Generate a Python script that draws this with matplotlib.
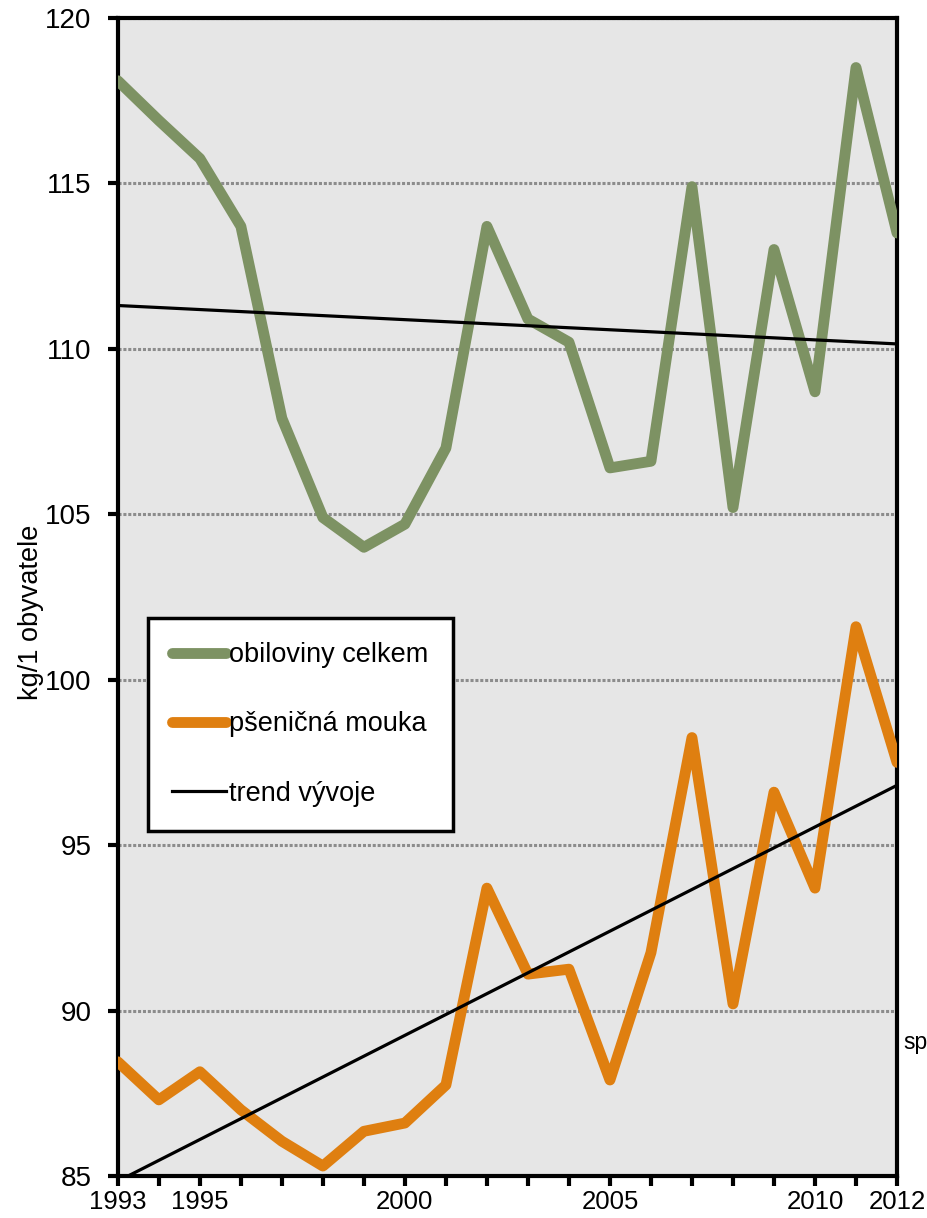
import numpy as np
import matplotlib
matplotlib.use("Agg")
import matplotlib.pyplot as plt

plt.rcParams['font.family'] = ['Liberation Sans', 'DejaVu Sans']

roky = list(range(1993, 2013))
obiloviny = [118.1, 116.9, 115.75, 113.7, 107.9, 104.9, 104.0, 104.7, 107.0, 113.7,
             110.9, 110.2, 106.4, 106.6, 114.9, 105.2, 113.0, 108.7, 118.5, 113.5]
mouka = [88.45, 87.3, 88.15, 87.0, 86.05, 85.3, 86.35, 86.6, 87.75, 93.7,
         91.1, 91.25, 87.9, 91.75, 98.25, 90.2, 96.6, 93.7, 101.6, 97.5]
popisky_x = [1993, 1995, 2000, 2005, 2010, 2012]
popisky_y = [85, 90, 95, 100, 105, 110, 115, 120]

zelena = '#7d9263'
oranzova = '#df7f10'

fig = plt.figure(figsize=(9.28, 12.18), dpi=100)
ax = fig.add_axes([0.127, 0.0345, 0.8396, 0.9508])
ax.set_facecolor('#e6e6e6')

x = np.array(roky)
ax.plot(x, obiloviny, color=zelena, lw=7.8, solid_capstyle='round',
        solid_joinstyle='round', label='obiloviny celkem', zorder=3)
ax.plot(x, mouka, color=oranzova, lw=7.8, solid_capstyle='round',
        solid_joinstyle='round', label='pšeničná mouka', zorder=3)

# linearni trend obou rad
for rada, lab in [(obiloviny, 'trend vývoje'), (mouka, None)]:
    k, q = np.polyfit(x, rada, 1)
    ax.plot(x, k * x + q, color='black', lw=2.3, label=lab, zorder=4)

ax.set_xlim(1993, 2012)
ax.set_ylim(85, 120)
ax.set_xticks(roky)
ax.set_xticklabels([str(r) if r in popisky_x else '' for r in roky])
ax.set_yticks(popisky_y)
ax.yaxis.grid(True, color='#8c8c8c', linestyle=(0, (1, 0.6)), lw=2.2)
ax.set_axisbelow(True)

for s in ax.spines.values():
    s.set_linewidth(3)
    s.set_color('black')
ax.tick_params(axis='both', length=7, width=3, direction='out')
ax.tick_params(axis='y', pad=12, labelsize=20)
ax.tick_params(axis='x', pad=3, labelsize=18.5)

ax.set_ylabel('kg/1 obyvatele', fontsize=19.5)
ax.yaxis.set_label_coords(-0.095, 0.487)

leg = ax.legend(loc='upper left', bbox_to_anchor=(0.0385, 0.482), fontsize=19.5,
                frameon=True, fancybox=False, edgecolor='black', facecolor='white',
                framealpha=1, labelspacing=1.6, handlelength=2.0, handletextpad=0.1,
                borderpad=0.9, borderaxespad=0)
leg.get_frame().set_linewidth(2.5)
leg.set_zorder(5)

fig.text(903 / 928, 1 - 1043 / 1218, 'sp', fontsize=16.5, va='center', ha='left')

fig.savefig('out.png', dpi=100)
